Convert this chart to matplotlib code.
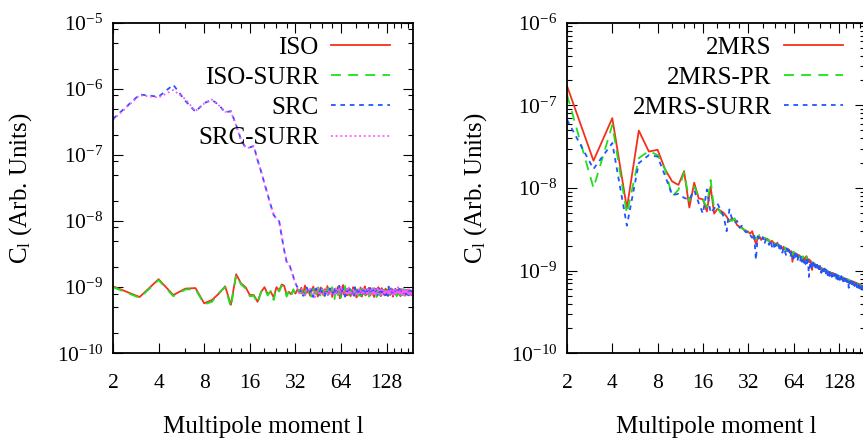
import numpy as np
import matplotlib
matplotlib.use('Agg')
import matplotlib.pyplot as plt
from matplotlib.ticker import FixedLocator, NullFormatter

plt.rcParams['font.family'] = 'Liberation Serif'
plt.rcParams['mathtext.fontset'] = 'custom'
plt.rcParams['mathtext.rm'] = 'Liberation Serif'
plt.rcParams['mathtext.it'] = 'Liberation Serif:italic'

# -=-=-=-=-=-=-=-=-=-=-
# |  data (1e-10 units) |
# -=-=-=-=-=-=-=-=-=-=-
iso_low = [10.3, 7.1, 13.2, 7.6, 9.5, 9.7, 5.7, 6.4, 8.0, 10.3,
           5.4, 15.7, 11.4, 10.0, 7.6, 7.6, 6.0, 8.5, 10.0, 7.9,
           8.5, 7.0, 10.0, 8.9, 11.0, 10.5, 7.6, 8.5, 7.8, 9.0,
           8.0, 9.2]
iso_high = [8.6, 9.8, 7.9, 10.6, 8.2, 9.1, 7.4, 8.8, 10.2, 8.0,
            9.4, 7.2, 8.7, 9.9, 8.1, 7.6, 9.3, 8.4, 10.4, 7.8,
            8.9, 9.6, 7.1, 8.5, 9.2, 7.9, 8.3, 10.1, 8.6, 6.8,
            9.5, 8.2, 10.8, 7.7, 8.9, 9.1, 7.5, 8.4, 9.7, 8.0,
            7.3, 9.0, 8.6, 10.0, 7.8, 8.3, 9.4, 7.0, 8.8, 9.2,
            8.1, 7.6, 9.9, 8.5, 7.2, 9.3, 8.7, 8.0, 10.3, 7.5,
            8.4, 9.1, 7.9, 8.6, 9.8, 7.4, 8.2, 9.0, 8.8, 7.7,
            9.6, 8.3, 7.1, 8.9, 9.4, 8.0, 7.6, 9.2, 8.5, 10.0,
            7.8, 8.6, 9.3, 7.3, 8.1, 9.7, 8.4, 7.9, 8.8, 9.1,
            7.5, 8.3, 9.5, 8.0, 7.7, 9.0, 8.6, 7.4, 9.2, 8.2,
            8.9, 7.6, 8.4, 9.6, 7.9, 8.1, 9.3, 7.2, 8.7, 8.5,
            9.1, 7.8, 8.3, 9.4, 8.0, 7.5, 8.8, 9.0, 7.7, 8.6,
            8.2, 9.5, 7.9, 8.4, 7.3, 9.2, 8.1, 8.7, 7.6, 9.0,
            8.5, 7.8, 9.3, 8.0, 8.6, 7.4, 8.9, 8.3, 7.9, 9.1,
            8.2, 7.7, 8.8, 8.4, 9.0, 7.5, 8.1, 8.7, 7.8, 8.5,
            8.0, 8.9, 7.6, 8.3, 8.6, 7.9, 8.2, 8.4, 8.0]

iso_surr_low = [10.0, 6.9, 12.8, 7.3, 9.2, 9.4, 5.5, 6.0, 8.2, 10.0,
                5.0, 15.2, 11.0, 9.6, 7.3, 7.4, 5.7, 8.6, 9.6, 7.5,
                8.8, 6.4, 9.8, 8.6, 10.5, 10.3, 7.2, 8.8, 7.4, 9.3,
                7.6, 8.8]
iso_surr_high = [9.1, 8.0, 9.7, 7.5, 10.2, 8.3, 8.9, 7.0, 9.4, 8.6,
                 7.8, 10.5, 8.2, 7.3, 9.6, 8.8, 7.1, 9.0, 8.4, 9.8,
                 7.6, 8.5, 10.0, 8.1, 6.6, 9.3, 8.7, 7.4, 9.9, 8.2,
                 7.0, 9.2, 8.4, 7.7, 10.4, 8.6, 7.9, 9.5, 7.2, 8.8,
                 9.3, 7.6, 8.2, 6.9, 9.1, 8.5, 7.8, 9.7, 8.0, 7.4,
                 9.0, 8.7, 7.3, 9.4, 8.1, 7.7, 9.6, 8.3, 6.8, 8.9,
                 9.2, 7.5, 8.6, 8.0, 7.2, 9.5, 8.4, 7.9, 9.1, 8.2,
                 7.4, 8.8, 9.7, 7.8, 8.3, 9.0, 7.1, 8.5, 9.3, 7.6,
                 8.9, 8.0, 7.5, 9.4, 8.2, 7.7, 9.2, 8.6, 7.3, 8.4,
                 9.0, 7.9, 8.3, 9.6, 7.6, 8.1, 8.8, 9.3, 7.4, 8.5,
                 7.8, 9.1, 8.2, 7.5, 9.4, 8.6, 7.7, 9.0, 8.0, 7.9,
                 8.4, 9.2, 7.6, 8.1, 8.9, 7.3, 9.3, 8.5, 8.0, 7.8,
                 9.0, 7.7, 8.6, 8.2, 9.4, 7.5, 8.3, 8.8, 7.9, 8.4,
                 7.6, 9.1, 8.0, 8.7, 7.8, 9.2, 8.1, 7.4, 8.9, 8.3,
                 8.6, 9.0, 7.7, 8.2, 7.9, 8.8, 8.4, 7.6, 9.1, 8.0,
                 8.5, 7.8, 8.7, 8.1, 7.9, 8.6, 8.0, 8.3, 8.2]

src_low = [3500, 8200, 7600, 11500, 6600, 4500, 6100, 6800, 5700, 4400,
           4600, 2850, 1700, 1290, 1300, 1370, 840, 560, 370, 250,
           174, 123, 110, 100, 58, 36, 24, 23, 18, 14.4,
           11.4, 10.0]
src_high = [8.2, 9.0, 7.4, 8.7, 9.9, 7.8, 8.5, 9.3, 7.1, 8.9,
            9.6, 8.1, 7.7, 10.1, 8.4, 8.8, 7.5, 9.2, 8.0, 7.3,
            9.5, 8.3, 8.6, 7.9, 9.8, 7.6, 8.2, 9.1, 11.0, 8.4,
            7.8, 10.3, 8.7, 9.0, 7.2, 8.5, 9.4, 8.1, 7.6, 9.7,
            8.3, 7.9, 9.2, 8.6, 7.4, 10.0, 8.0, 8.8, 7.7, 9.1,
            8.4, 9.5, 7.5, 8.2, 9.0, 8.7, 7.3, 9.6, 8.1, 8.5,
            7.8, 9.3, 8.0, 7.6, 9.1, 8.4, 9.7, 7.9, 8.3, 8.9,
            8.6, 7.4, 9.2, 8.1, 7.8, 9.5, 8.3, 8.0, 7.6, 9.0,
            8.7, 9.4, 7.7, 8.2, 9.1, 7.5, 8.5, 9.8, 8.0, 7.9,
            8.8, 8.3, 7.6, 9.3, 8.1, 9.0, 7.4, 8.6, 10.2, 8.2,
            7.9, 8.5, 9.2, 7.7, 8.4, 9.6, 8.0, 7.8, 9.1, 8.3,
            8.7, 7.5, 9.4, 8.2, 7.9, 8.6, 9.0, 7.7, 8.4, 8.9,
            7.6, 8.8, 9.3, 8.1, 8.5, 7.8, 9.1, 8.0, 8.6, 7.9,
            9.2, 8.4, 7.7, 8.9, 8.2, 9.4, 7.9, 8.5, 8.1, 8.7,
            7.8, 9.0, 8.3, 8.6, 7.6, 8.9, 8.2, 9.1, 8.0, 8.4,
            7.9, 8.7, 8.3, 9.0, 7.7, 8.5, 8.1, 8.6, 7.8]

src_surr_low = [3400, 8000, 7400, 9600, 7000, 4600, 6000, 6900, 5600, 4500,
                4500, 2800, 1650, 1300, 1280, 1350, 820, 570, 360, 255,
                170, 125, 108, 98, 60, 35, 25, 22, 18.5, 14,
                11.8, 9.6]
src_surr_high = [7.6, 9.4, 8.3, 7.2, 9.0, 8.6, 10.1, 7.9, 8.4, 7.0,
                 8.8, 9.7, 7.5, 8.2, 9.3, 7.8, 8.6, 10.0, 7.4, 8.9,
                 8.1, 7.7, 9.2, 8.5, 7.3, 9.6, 8.0, 8.7, 9.9, 7.6,
                 10.6, 8.3, 7.8, 9.1, 8.6, 7.5, 9.4, 8.0, 9.8, 7.7,
                 8.9, 8.2, 7.4, 9.5, 8.4, 7.9, 9.0, 8.6, 7.3, 8.8,
                 9.3, 7.8, 8.5, 9.1, 7.6, 8.3, 9.7, 8.0, 7.9, 9.2,
                 8.6, 7.5, 9.4, 8.1, 8.7, 7.7, 9.0, 8.4, 7.8, 9.6,
                 8.2, 8.9, 7.6, 9.3, 8.0, 7.4, 8.8, 9.5, 8.3, 7.9,
                 9.1, 8.4, 8.0, 7.7, 9.2, 8.6, 7.8, 8.9, 9.4, 8.1,
                 7.6, 9.0, 8.5, 7.9, 9.3, 8.2, 8.7, 7.5, 9.1, 8.4,
                 8.8, 7.7, 9.5, 8.3, 8.0, 7.8, 9.0, 8.6, 7.6, 9.2,
                 8.1, 8.9, 7.9, 8.5, 9.4, 7.7, 8.3, 8.8, 10.0, 8.2,
                 8.7, 7.8, 8.4, 9.1, 7.9, 8.6, 8.2, 9.5, 7.7, 8.5,
                 8.9, 8.0, 9.3, 7.6, 8.4, 8.8, 7.9, 9.0, 8.3, 8.6,
                 8.1, 8.7, 9.2, 7.8, 8.5, 8.0, 9.3, 7.7, 8.4, 8.2,
                 8.8, 8.0, 8.5, 7.8, 8.7, 8.3, 8.1, 8.4, 7.9]

mrs = [1720, 214, 700, 57, 495, 276, 290, 166, 120, 109,
       160, 58, 116, 75, 73, 52, 104, 49, 56, 53,
       50, 45, 39.5, 43, 41, 35.5, 34, 33.5, 31, 30.5,
       29.5, 28, 30, 25, 21, 24.5, 26, 23.5, 25, 24.5,
       23.5, 24.2, 22.8, 21.5, 23, 22, 21, 20.5, 21.8, 19.6,
       20.2, 19.1, 18.4, 19.5, 18, 18.8, 17.2, 18.3, 17.5, 16.4,
       17.2, 12.8, 16.8, 15.6, 16.3, 15.1, 15.8, 14.2, 15.4, 14.6,
       13.9, 14.8, 14.1, 13.5, 14.4, 13.2, 15.0, 13.6, 12.9, 13.8,
       12.6, 13.3, 12.1, 10.2, 11.9, 12.4, 11.5, 12.0, 11.2, 11.7,
       10.9, 11.4, 11.0, 10.5, 11.3, 10.8, 10.1, 10.7, 10.4, 9.9,
       10.5, 10.0, 9.7, 10.3, 9.5, 9.9, 9.4, 9.8, 9.2, 9.6,
       9.1, 9.5, 8.9, 9.3, 8.8, 9.4, 8.7, 9.0, 8.6, 9.1,
       8.5, 8.9, 8.4, 8.8, 8.2, 8.6, 8.3, 8.0, 8.5, 7.9,
       8.4, 8.1, 7.8, 8.3, 7.7, 8.2, 7.9, 7.6, 8.1, 7.5,
       8.0, 7.7, 7.4, 7.9, 7.3, 7.8, 7.5, 7.2, 7.7, 7.4,
       7.1, 7.6, 7.3, 7.0, 7.5, 7.2, 6.9, 7.4, 7.1, 6.8,
       7.3, 7.0, 6.8, 7.2, 6.9, 6.6, 7.1, 6.8, 6.5, 7.0,
       6.7, 6.4, 6.9, 6.6, 6.3, 6.8, 6.5, 6.2, 6.7, 6.4,
       6.1, 6.6, 6.3, 6.0, 6.5, 6.2, 5.9, 6.4, 6.1, 5.8,
       6.2]

mrs_pr = [1350, 100, 580, 49, 230, 280, 250, 166, 79, 95,
          155, 70, 104, 79, 72, 59, 125, 56, 58, 50,
          47, 43, 41, 40, 43, 37, 34, 32.5, 31.5, 30,
          29, 29.5, 27, 26.5, 24, 25.5, 27, 24, 23.5, 25,
          24.5, 23, 23.6, 22.4, 21.6, 22.8, 20.8, 21.4, 20.1, 20.6,
          19.4, 20, 18.9, 18.2, 19.1, 17.6, 18.5, 17.9, 16.8, 17.4,
          16.6, 15.2, 17.0, 16.1, 15.4, 16.0, 14.9, 15.5, 14.3, 15.0,
          14.5, 13.8, 14.9, 13.7, 14.2, 13.4, 14.6, 12.8, 13.5, 13.0,
          12.8, 12.2, 13.1, 11.6, 12.5, 11.8, 12.3, 11.4, 11.9, 11.1,
          11.6, 10.8, 11.3, 10.6, 11.0, 10.3, 10.9, 10.0, 10.6, 10.2,
          9.8, 10.4, 9.6, 10.1, 9.9, 9.3, 9.8, 9.5, 9.0, 9.7,
          9.4, 8.9, 9.6, 9.0, 9.2, 8.7, 9.1, 8.8, 8.5, 9.0,
          8.7, 8.3, 8.9, 8.5, 8.6, 8.1, 8.7, 8.2, 8.4, 8.0,
          8.5, 7.9, 8.2, 8.0, 7.8, 8.3, 7.6, 8.0, 7.8, 7.7,
          7.5, 8.1, 7.6, 7.4, 7.9, 7.5, 7.3, 7.8, 7.2, 7.6,
          7.4, 7.0, 7.5, 7.2, 6.9, 7.4, 7.1, 7.0, 6.8, 7.3,
          6.9, 7.1, 6.7, 7.0, 6.8, 6.9, 6.6, 7.0, 6.7, 6.5,
          6.9, 6.6, 6.4, 6.8, 6.5, 6.6, 6.3, 6.7, 6.4, 6.5,
          6.2, 6.5, 6.4, 6.1, 6.3, 6.4, 6.0, 6.3, 6.2, 6.0,
          6.1]

mrs_surr = [670, 170, 350, 35, 200, 250, 240, 138, 82, 85,
            76, 72, 94, 66, 49, 96, 50, 56, 65, 54,
            45, 30, 55, 42, 38, 40, 33, 35, 31, 29,
            30, 27, 25, 28, 13.5, 26, 24, 23, 25.5, 21,
            24, 22.5, 20.5, 23.5, 19.5, 22, 18, 21, 19, 20.5,
            17, 19.8, 16.5, 19, 17.5, 15.5, 18.5, 16, 17.8, 14.5,
            17, 15.5, 14, 16.5, 13.8, 15.8, 13, 15, 14.2, 13.2,
            15.2, 12.8, 14.5, 12.5, 13.8, 12, 14.2, 11.5, 13.5, 8.4,
            10.8, 13, 11.8, 10.5, 12.6, 11, 12, 10.2, 11.6, 10.6,
            11.8, 10, 11.2, 9.6, 11.4, 10.2, 9.4, 10.8, 9.8, 10.4,
            9.2, 10.6, 9.5, 9.0, 10.2, 9.4, 8.8, 9.9, 9.1, 8.6,
            9.6, 8.9, 9.3, 8.4, 9.5, 8.6, 9.0, 8.2, 9.2, 8.5,
            8.8, 8.0, 9.0, 8.3, 7.8, 8.7, 8.1, 8.5, 7.7, 8.4,
            7.9, 8.6, 7.5, 8.2, 7.8, 7.4, 8.3, 7.6, 8.0, 7.2,
            7.9, 7.5, 7.8, 7.1, 7.6, 7.3, 7.7, 6.2, 7.4, 7.0,
            7.5, 6.9, 7.2, 7.4, 6.8, 7.1, 6.6, 7.3, 6.9, 6.7,
            7.0, 6.5, 6.9, 6.7, 6.4, 7.0, 6.6, 6.3, 6.8, 6.5,
            6.2, 6.7, 6.4, 6.6, 6.1, 6.5, 6.3, 6.0, 6.4, 6.2,
            6.5, 5.9, 6.3, 6.1, 5.8, 6.2, 6.0, 5.9, 6.1, 5.7,
            5.9]

unit = 1e-10
ell = np.arange(2, 193)

x_ticks = [2, 4, 8, 16, 32, 64, 128]
x_minor = [6, 10, 12, 14, 20, 24, 28, 40, 48, 56, 80, 96, 112, 144, 160, 176]
left_exps = [-10, -9, -8, -7, -6, -5]
right_exps = [-10, -9, -8, -7, -6]

left_series = [('ISO', iso_low + iso_high),
               ('ISO-SURR', iso_surr_low + iso_surr_high),
               ('SRC', src_low + src_high),
               ('SRC-SURR', src_surr_low + src_surr_high)]
right_series = [('2MRS', mrs), ('2MRS-PR', mrs_pr), ('2MRS-SURR', mrs_surr)]

styles = [dict(color='#f5301a', linestyle='-'),
          dict(color='#1ee01e', linestyle=(0, (5.5, 4.0))),
          dict(color='#2255ff', linestyle=(0, (2.6, 2.6))),
          dict(color='#ff55ff', linestyle=(0, (1.0, 1.6)))]


def style_axis(ax, exps, minor_mult):
    ax.set_xscale('log', base=2)
    ax.set_yscale('log')
    ax.set_xlim(2, 192)
    ax.set_ylim(10.0 ** exps[0], 10.0 ** exps[-1])
    ax.xaxis.set_major_locator(FixedLocator(x_ticks))
    ax.set_xticklabels([str(t) for t in x_ticks])
    ax.xaxis.set_minor_locator(FixedLocator(x_minor))
    ax.xaxis.set_minor_formatter(NullFormatter())
    ax.set_yticks([10.0 ** e for e in exps])
    ax.set_yticklabels([r'$\mathregular{10^{%d}}$' % e for e in exps])
    ymin = [m * 10.0 ** e for e in exps[:-1] for m in minor_mult]
    ax.yaxis.set_minor_locator(FixedLocator(ymin))
    ax.yaxis.set_minor_formatter(NullFormatter())
    ax.tick_params(which='both', direction='in', top=True, right=True, width=0.8)
    ax.tick_params(which='major', length=7)
    ax.tick_params(which='minor', length=3.5)
    ax.tick_params(axis='x', which='major', pad=15, labelsize=15.5)
    ax.tick_params(axis='y', which='major', pad=7, labelsize=15.5)
    for sp in ax.spines.values():
        sp.set_linewidth(1.3)
    ax.set_xlabel('Multipole moment l', fontsize=18)
    ax.set_ylabel(r'$\mathregular{C_l}$ (Arb. Units)', fontsize=18)
    ax.xaxis.set_label_coords(0.5, -0.19)
    ax.yaxis.set_label_coords(-0.263, 0.5)


fig = plt.figure(figsize=(8.63, 4.40), dpi=100)
ax1 = fig.add_axes([113 / 863, 86.7 / 440, 300.3 / 863, 330.6 / 440])
ax2 = fig.add_axes([567 / 863, 86.7 / 440, 298.3 / 863, 330.6 / 440])

for (name, vals), st in zip(left_series, styles):
    ax1.plot(ell[:len(vals)], np.array(vals) * unit, lw=1.3, label=name, **st)
for (name, vals), st in zip(right_series, styles):
    ax2.plot(ell[:len(vals)], np.array(vals) * unit, lw=1.3, label=name, **st)

style_axis(ax1, left_exps, [2, 5, 8])
style_axis(ax2, right_exps, [2, 3, 4, 5, 6, 7, 8, 9])

leg_opts = dict(loc='upper right', frameon=False, markerfirst=False, fontsize=18,
                handlelength=2.35, handletextpad=0.5, labelspacing=0.31,
                borderpad=0, borderaxespad=0)
ax1.legend(bbox_to_anchor=((390 - 113) / 300.3, (353.3 - 36) / 330.6), **leg_opts)
ax2.legend(bbox_to_anchor=((843 - 567) / 298.3, (353.3 - 36) / 330.6), **leg_opts)

plt.savefig('out.png', dpi=100)
